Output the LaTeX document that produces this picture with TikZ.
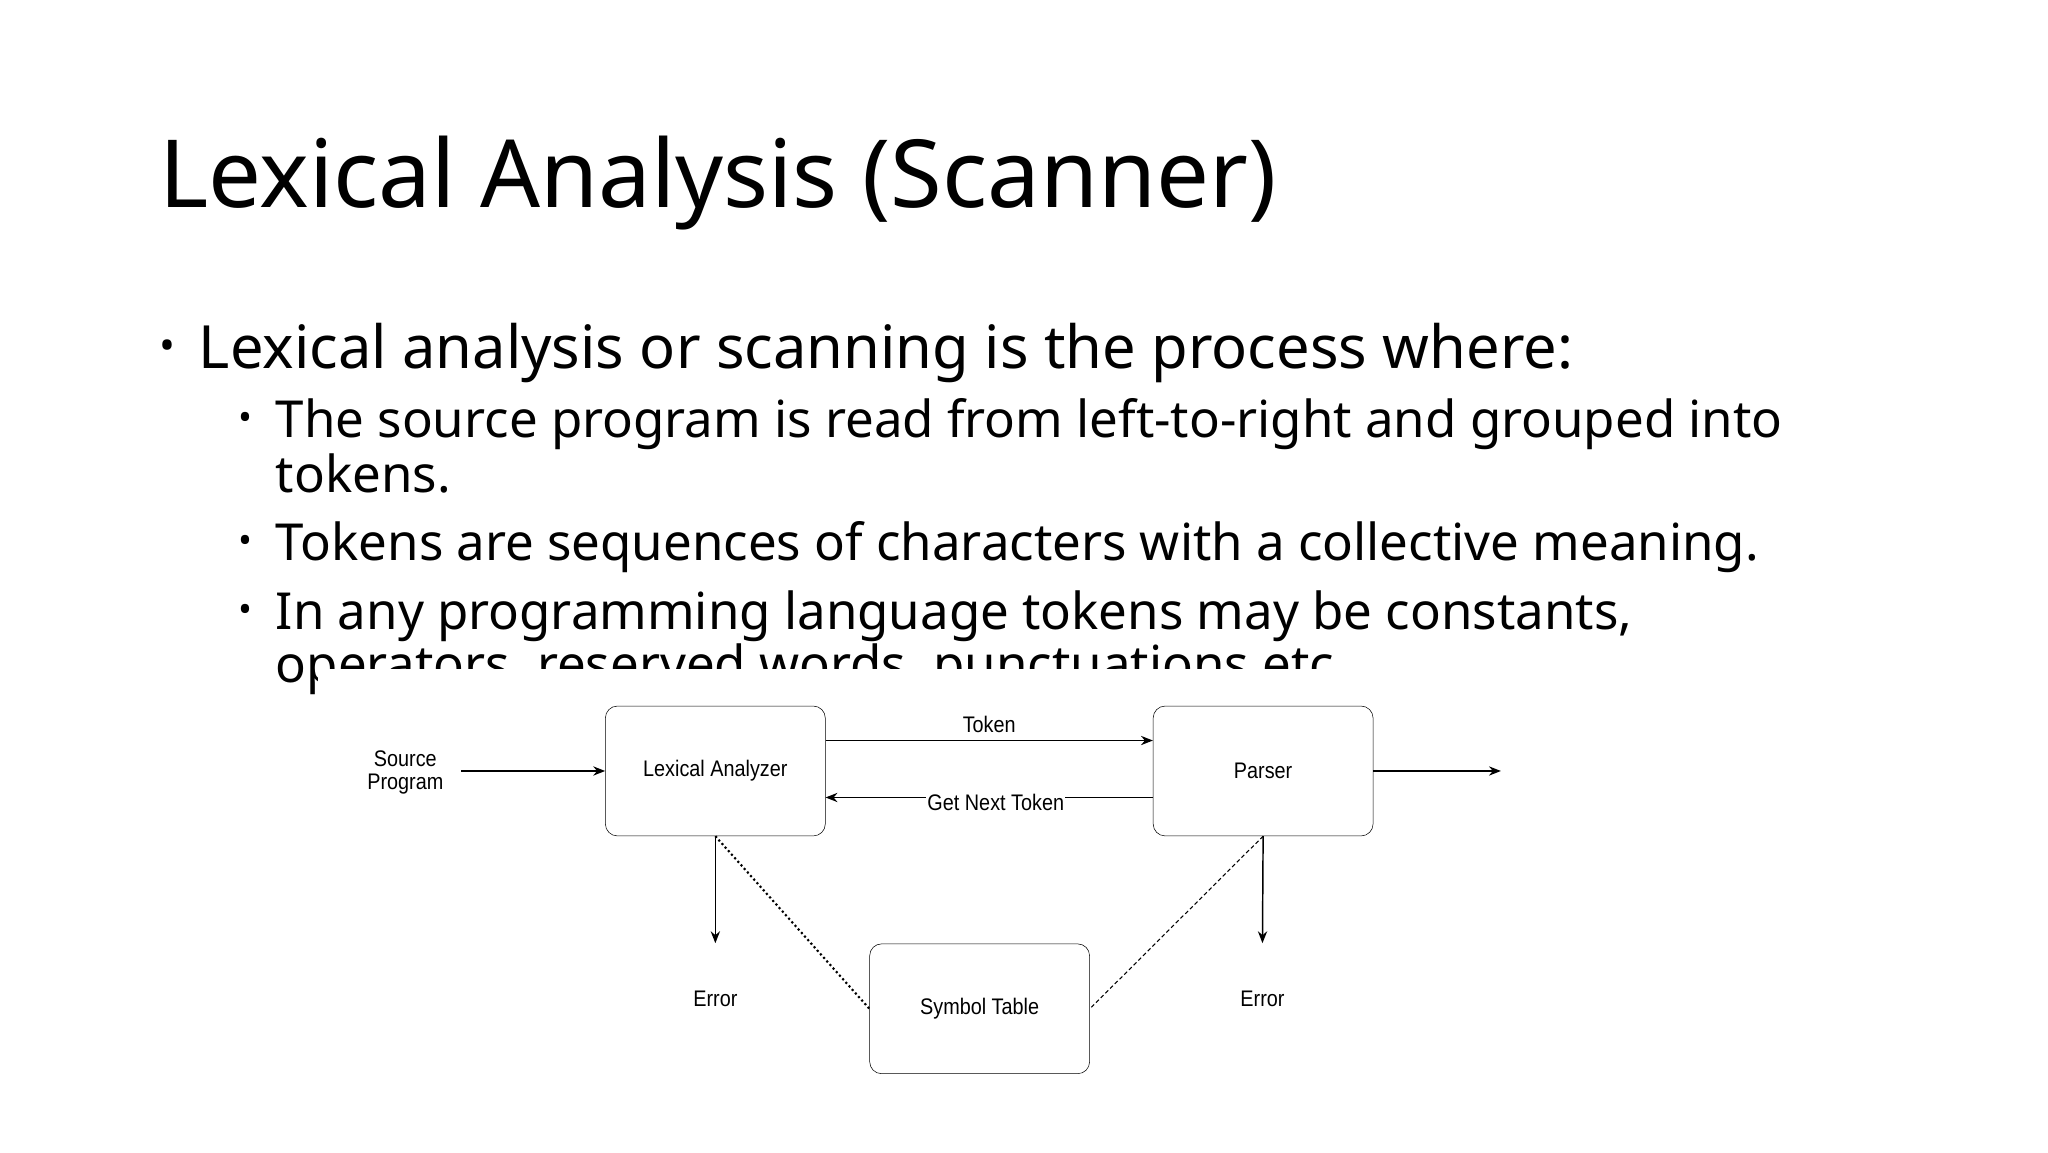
\documentclass[tikz,border=0pt]{standalone}
\usepackage{fontspec}
\setmainfont{Noto Sans}
\newfontfamily\diag{Liberation Sans}
\usetikzlibrary{arrows.meta}
\begin{document}
\begin{tikzpicture}[x=1pt,y=-1pt,
  txt/.style={anchor=base west,inner sep=0pt},
  sub/.style={txt,font=\fontsize{38.5}{40}\selectfont},
  box/.style={draw,rounded corners=9pt,minimum width=166pt,minimum height=98pt,inner sep=0pt,font=\diag\fontsize{17}{20}\selectfont\addfontfeature{FakeStretch=0.88}},
  lab/.style={inner sep=1pt,font=\diag\fontsize{17}{20}\selectfont\addfontfeature{FakeStretch=0.88}},
  arr/.style={-{Stealth[length=9pt,width=7pt]},line width=1.1pt}]
\useasboundingbox (0,0) rectangle (1546,870);
\fill[white] (0,0) rectangle (1546,870);
\node[txt,font=\fontsize{71}{80}\selectfont] (title) at (120,157) {Lexical Analysis (Scanner)};
\node[txt,font=\fontsize{45}{50}\selectfont] (b1) at (120,278) {\makebox[30pt][l]{\fontsize{32}{32}\selectfont\raisebox{6pt}{•}}Lexical analysis or scanning is the process where:};
\node[sub] (s1a) at (180,330) {\makebox[28pt][l]{\fontsize{28}{28}\selectfont\raisebox{5pt}{•}}The source program is read from left-to-right and grouped into};
\node[sub] (s1b) at (208,372) {tokens.};
\node[sub] (s2) at (180,423) {\makebox[28pt][l]{\fontsize{28}{28}\selectfont\raisebox{5pt}{•}}Tokens are sequences of characters with a collective meaning.};
\node[sub] (s3a) at (180,475) {\makebox[28pt][l]{\fontsize{28}{28}\selectfont\raisebox{5pt}{•}}In any programming language tokens may be constants,};
\node[sub] (s3b) at (208,515) {operators, reserved words, punctuations etc.};
\fill[white] (240,505) rectangle (1150,830);
% diagram
\node[box] (lex) at (540,582) {Lexical Analyzer};
\node[box] (par) at (953.5,582) {Parser};
\node[box] (sym) at (739.5,761.5) {Symbol Table};
\node[lab,align=center] (src) at (306,583) {Source\\[-3pt]Program};
\node[lab] (err1) at (540,754) {Error};
\node[lab] (err2) at (953,754) {Error};
\coordinate (out) at (1133,582);
\coordinate (e1) at (540,712);
\coordinate (e2) at (953,712);
\draw[arr] (348,582) -- (lex.west);
\draw[arr] (lex.east |- 0,559) -- node[lab,above=4pt] (tok) {Token} (par.west |- 0,559);
\draw[arr] (par.west |- 0,602) -- node[lab,fill=white,pos=0.48,yshift=-4pt] (gnt) {Get Next Token} (lex.east |- 0,602);
\draw[arr] (par.east) -- (out);
\draw[arr] (lex.south) -- (e1);
\draw[arr] (par.south) -- (e2);
\draw[line width=1.6pt,dotted] (lex.south) -- (sym.west);
\draw[line width=0.8pt,dash pattern=on 3pt off 2pt] (par.south) -- (sym.east);
\end{tikzpicture}
\end{document}
